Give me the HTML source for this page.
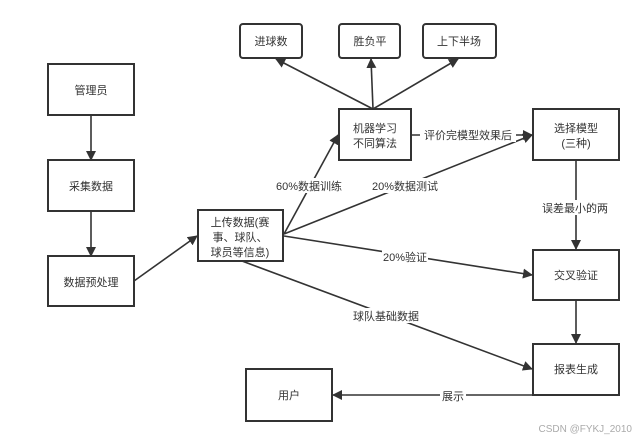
<!DOCTYPE html>
<html><head><meta charset="utf-8"><style>
html,body{margin:0;padding:0;background:#fff;}
svg{display:block;font-family:"Liberation Sans","Noto Sans CJK SC",sans-serif;}
text{fill:#333;font-size:11px;}
</style></head><body>
<svg width="642" height="441" viewBox="0 0 642 441" xmlns="http://www.w3.org/2000/svg">
<defs><marker id="a" markerWidth="10" markerHeight="10" refX="9" refY="5" orient="auto" markerUnits="userSpaceOnUse"><path d="M0,0 L10,5 L0,10 Z" fill="#333"/></marker></defs>
<g fill="#fff" stroke="#333" stroke-width="2">
<rect x="48" y="64" width="86" height="51"/>
<rect x="48" y="160" width="86" height="51"/>
<rect x="48" y="256" width="86" height="50"/>
<rect x="198" y="210" width="85" height="51"/>
<rect x="240" y="24" width="62" height="34" rx="3"/>
<rect x="339" y="24" width="61" height="34" rx="3"/>
<rect x="423" y="24" width="73" height="34" rx="3"/>
<rect x="339" y="109" width="72" height="51"/>
<rect x="533" y="109" width="86" height="51"/>
<rect x="533" y="250" width="86" height="50"/>
<rect x="533" y="344" width="86" height="51"/>
<rect x="246" y="369" width="86" height="52"/>
</g>
<g stroke="#333" stroke-width="1.6" fill="none" marker-end="url(#a)">
<line x1="91" y1="115" x2="91" y2="160"/>
<line x1="91" y1="211" x2="91" y2="256"/>
<line x1="134" y1="281" x2="197" y2="236"/>
<line x1="284" y1="234" x2="338" y2="135"/>
<line x1="284" y1="234" x2="532" y2="135"/>
<line x1="284" y1="236" x2="532" y2="275"/>
<line x1="242" y1="261" x2="532" y2="369"/>
<line x1="373" y1="109" x2="276" y2="59"/>
<line x1="373" y1="109" x2="371" y2="59"/>
<line x1="373" y1="109" x2="458" y2="59"/>
<line x1="411" y1="135" x2="532" y2="135"/>
<line x1="576" y1="160" x2="576" y2="249"/>
<line x1="576" y1="300" x2="576" y2="343"/>
<line x1="533" y1="395" x2="333" y2="395"/>
</g>
<g fill="#fff">
<rect x="420" y="127" width="96" height="15"/>
<rect x="536" y="200" width="78" height="15"/>
<rect x="270" y="178" width="78" height="15"/>
<rect x="368" y="178" width="74" height="15"/>
<rect x="382" y="249" width="46" height="15"/>
<rect x="350" y="308" width="72" height="15"/>
<rect x="440" y="388" width="26" height="15"/>
</g>
<g text-anchor="middle">
<text x="91" y="94">管理员</text>
<text x="91" y="190">采集数据</text>
<text x="91" y="286">数据预处理</text>
<text x="240" y="226">上传数据(赛</text>
<text x="240" y="241">事、球队、</text>
<text x="240" y="256">球员等信息)</text>
<text x="271" y="45">进球数</text>
<text x="370" y="45">胜负平</text>
<text x="459" y="45">上下半场</text>
<text x="375" y="132">机器学习</text>
<text x="375" y="147">不同算法</text>
<text x="576" y="132">选择模型</text>
<text x="576" y="147">(三种)</text>
<text x="576" y="279">交叉验证</text>
<text x="576" y="373">报表生成</text>
<text x="289" y="399">用户</text>
<text x="468" y="139">评价完模型效果后</text>
<text x="575" y="212">误差最小的两</text>
<text x="309" y="190">60%数据训练</text>
<text x="405" y="190">20%数据测试</text>
<text x="405" y="261">20%验证</text>
<text x="386" y="320">球队基础数据</text>
<text x="453" y="400">展示</text>
</g>
<text x="632" y="432" text-anchor="end" style="fill:#aaa;font-size:10px">CSDN @FYKJ_2010</text>
</svg>
</body></html>
